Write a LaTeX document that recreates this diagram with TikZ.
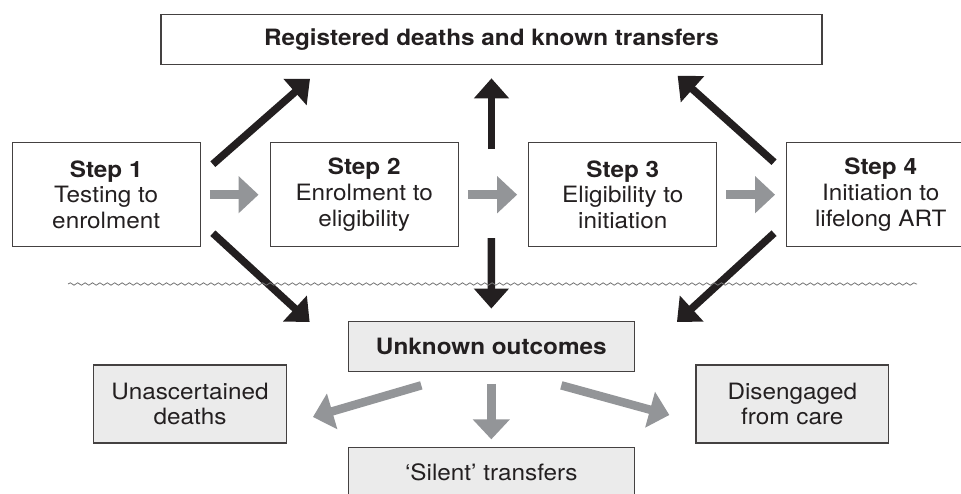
\documentclass[tikz,border=0pt]{standalone}
\usepackage{fontspec}
\setmainfont{TeX Gyre Heros}[FakeStretch=1.08]
\usetikzlibrary{arrows.meta, decorations.pathmorphing}
\definecolor{ink}{HTML}{231F20}
\definecolor{boxgray}{HTML}{EBEBEB}
\definecolor{arrgray}{HTML}{939598}

\begin{document}
\begin{tikzpicture}[x=1pt, y=-1pt, font=\fontsize{22.5}{25.8}\selectfont,
  box/.style={draw=ink!85, line width=1.3pt, text=ink, align=center, inner sep=0pt},
  outcome/.style={box, fill=boxgray, minimum width=192.6pt, minimum height=78pt},
  stepbox/.style={box, fill=white, minimum width=188pt, minimum height=103.7pt},
  blk/.style={line width=7.5pt, draw=ink, -{Triangle[length=20pt,width=34pt]}},
  gry/.style={line width=8.5pt, draw=arrgray, -{Triangle[length=20pt,width=36pt]}},
  wave/.style={draw=black!55, line width=0.8pt, decorate, decoration={snake, segment length=7.4pt, amplitude=1.2pt}}]
\path[use as bounding box, clip] (0,0) rectangle (961,494);
%
\node[box, minimum width=661pt, minimum height=50pt] (reg) at (491.5,39.2) {\textbf{Registered deaths and known transfers}};
\node[stepbox] (step1) at (106.2,194.7) {\textbf{Step 1}\\Testing to\\enrolment};
\node[stepbox] (step2) at (364.2,194.7) {\textbf{Step 2}\\Enrolment to\\eligibility};
\node[stepbox] (step3) at (622.8,194.7) {\textbf{Step 3}\\Eligibility to\\initiation};
\node[stepbox] (step4) at (880.7,194.7) {\textbf{Step 4}\\Initiation to\\lifelong ART};
\node[box, fill=boxgray, minimum width=286pt, minimum height=50pt] (unknown) at (491.3,346.7) {\textbf{Unknown outcomes}};
\node[outcome] (unasc) at (190,404) {Unascertained\\deaths};
\node[outcome] (diseng) at (792.3,404) {Disengaged\\from care};
\node[box, fill=boxgray, minimum width=286pt, minimum height=50pt] (silent) at (491.3,472.3) {‘Silent’ transfers};
\coordinate (mid) at (491.5,194.7);
%
% steps along the cascade
\draw[gry, shorten <=9pt, shorten >=11pt] (step1) -- (step2);
\draw[gry, shorten <=9pt, shorten >=11pt] (step2) -- (step3);
\draw[gry, shorten <=9pt, shorten >=11pt] (step3) -- (step4);
%
% known and unknown exits
\draw[blk] ([shift={(12,22)}]step1.north east) -- ([shift={(-181.5,14)}]reg.south);
\draw[blk] ([shift={(12,-14)}]step1.south east) -- ([shift={(-38,1)}]unknown.north west);
\draw[blk] ([shift={(-12,20)}]step4.north west) -- ([shift={(-145,11)}]reg.south east);
\draw[blk] ([shift={(-12,-14)}]step4.south west) -- ([shift={(42,1)}]unknown.north east);
\draw[blk, shorten <=45.5pt, shorten >=13.5pt] (mid) -- (reg);
\draw[blk, shorten <=43.5pt, shorten >=12.5pt] (mid) -- (unknown);
%
\draw[wave] (68,284) coordinate (wl) -- (917,284) coordinate (wr);
%
% where the unknown outcomes go
\draw[gry] ([shift={(-70,13)}]unknown.south) -- ([shift={(26,13)}]unasc.east);
\draw[gry, shorten <=11.6pt, shorten >=7.3pt] (unknown) -- (silent);
\draw[gry] ([shift={(70,13)}]unknown.south) -- ([shift={(-26,11)}]diseng.west);
\end{tikzpicture}
\end{document}
